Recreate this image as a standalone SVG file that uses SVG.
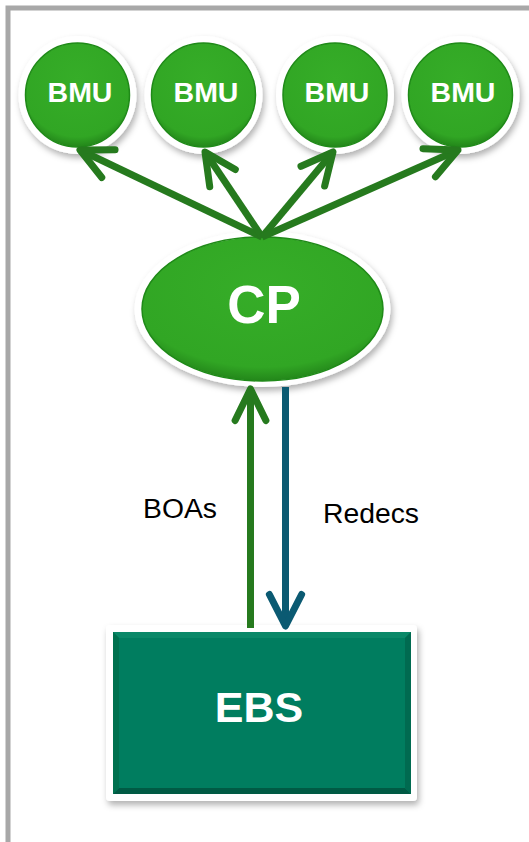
<svg xmlns="http://www.w3.org/2000/svg" width="529" height="842" viewBox="0 0 529 842">
<style>
.ring{fill:#ffffff;filter:url(#sh)}
.bmu{fill:url(#gGreen);stroke:#1f8a18;stroke-width:1.5}
.lbl{font-family:"Liberation Sans",Arial,sans-serif;font-weight:bold;fill:#ffffff;text-anchor:middle}
.txt{font-family:"Liberation Sans",Arial,sans-serif;fill:#000000;font-size:27px}
.gl{stroke:#267a1e;stroke-width:7;fill:none;stroke-linecap:butt}
.bl{stroke:#0b5a72;stroke-width:7;fill:none}
</style>
<defs>
<radialGradient id="gGreen" cx="0.5" cy="0.35" r="0.65">
<stop offset="0" stop-color="#36ad28"/>
<stop offset="0.85" stop-color="#31a624"/>
<stop offset="1" stop-color="#23861a"/>
</radialGradient>
<filter id="sh" x="-20%" y="-20%" width="150%" height="150%">
<feDropShadow dx="2" dy="4" stdDeviation="3" flood-color="#000" flood-opacity="0.3"/>
</filter>
<marker id="ag" markerUnits="strokeWidth" viewBox="-6 -4 8 8" refX="0" refY="0" markerWidth="8" markerHeight="8" orient="auto" overflow="visible">
<path d="M -4.5 -2.2 L 0 0 L -4.5 2.2" fill="none" stroke="#267a1e" stroke-width="1" stroke-linecap="round" stroke-linejoin="round"/>
</marker>
<marker id="ab" markerUnits="strokeWidth" viewBox="-6 -4 8 8" refX="0" refY="0" markerWidth="8" markerHeight="8" orient="auto" overflow="visible">
<path d="M -4.5 -2.3 L 0 0 L -4.5 2.3" fill="none" stroke="#0b5a72" stroke-width="1" stroke-linecap="round" stroke-linejoin="round"/>
</marker>
</defs>
<rect x="0" y="0" width="529" height="842" fill="#ffffff"/>
<rect id="frame" x="8" y="8" width="540" height="860" fill="none" stroke="#a8a8a8" stroke-width="5"/>

<g id="bmu1">
<circle class="ring" cx="77.5" cy="95" r="59"/>
<circle class="bmu" cx="77.5" cy="95" r="52"/>
<text class="lbl" x="80" y="102" font-size="28.5">BMU</text>
</g>
<g id="bmu2">
<circle class="ring" cx="203.5" cy="95" r="59"/>
<circle class="bmu" cx="203.5" cy="95" r="52"/>
<text class="lbl" x="206" y="102" font-size="28.5">BMU</text>
</g>
<g id="bmu3">
<circle class="ring" cx="335" cy="95" r="59"/>
<circle class="bmu" cx="335" cy="95" r="52"/>
<text class="lbl" x="337" y="102" font-size="28.5">BMU</text>
</g>
<g id="bmu4">
<circle class="ring" cx="460.5" cy="95" r="59"/>
<circle class="bmu" cx="460.5" cy="95" r="52"/>
<text class="lbl" x="463" y="102" font-size="28.5">BMU</text>
</g>

<g id="cp">
<ellipse class="ring" cx="262.5" cy="309" rx="128" ry="78"/>
<ellipse class="bmu" cx="262.5" cy="309" rx="120.5" ry="72"/>
<text class="lbl" x="264" y="323" font-size="53">CP</text>
</g>

<g id="ebs">
<rect x="106" y="625" width="311" height="176" rx="4" fill="#ffffff" filter="url(#sh)"/>
<rect x="113" y="632" width="298" height="162" fill="#007d5f"/>
<polygon points="113,632 411,632 405,638 119,638" fill="#0a8868"/>
<polygon points="113,794 411,794 405,788 119,788" fill="#005a44"/>
<polygon points="113,632 119,638 119,788 113,794" fill="#00714f"/>
<polygon points="411,632 405,638 405,788 411,794" fill="#006a50"/>
<text class="lbl" x="259" y="722" font-size="43">EBS</text>
</g>

<g id="connectors">
<line class="gl" x1="262" y1="237" x2="80" y2="150" marker-end="url(#ag)"/>
<line class="gl" x1="262" y1="237" x2="205" y2="152" marker-end="url(#ag)"/>
<line class="gl" x1="262" y1="237" x2="333" y2="152" marker-end="url(#ag)"/>
<line class="gl" x1="262" y1="237" x2="458" y2="150" marker-end="url(#ag)"/>
<line class="gl" x1="250.5" y1="628" x2="250.5" y2="389" marker-end="url(#ag)"/>
<line class="bl" x1="285.5" y1="387" x2="285.5" y2="626" marker-end="url(#ab)"/>
</g>

<g id="labels">
<text class="txt" x="143" y="518" textLength="74" lengthAdjust="spacingAndGlyphs">BOAs</text>
<text class="txt" x="323" y="523" textLength="96" lengthAdjust="spacingAndGlyphs">Redecs</text>
</g>
</svg>
